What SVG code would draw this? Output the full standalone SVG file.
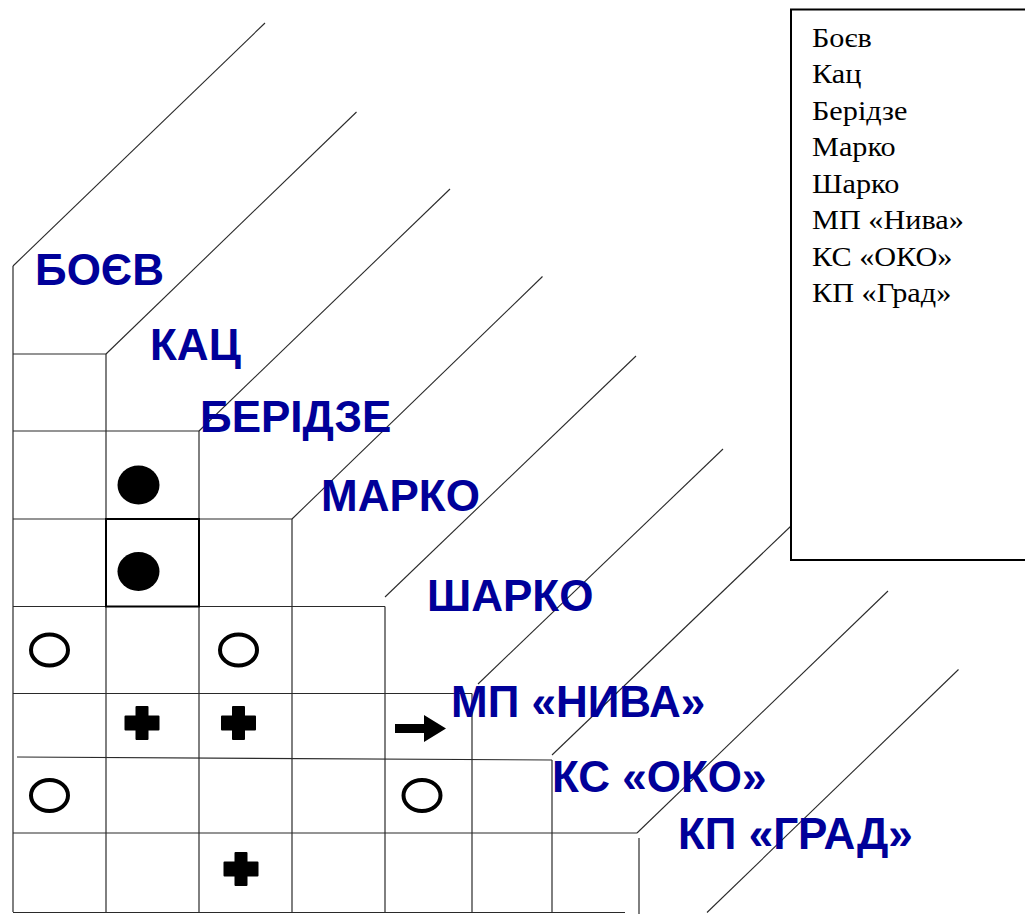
<svg xmlns="http://www.w3.org/2000/svg" width="1025" height="914" viewBox="0 0 1025 914">
<style>
.g{stroke:#2a2a2a;stroke-width:1.2;fill:none}
.d{stroke:#2a2a2a;stroke-width:1.1;fill:none}
.lbl{font-family:"Liberation Sans",Arial,sans-serif;font-weight:bold;font-size:44px;fill:#000099}
.leg{font-family:"Liberation Serif","Times New Roman",serif;font-size:27px;fill:#000}
.oc{fill:none;stroke:#000;stroke-width:4}
.fc{fill:#000}
</style>
<defs>
<path id="cross" d="M-5.5,-17 h11 q1,0 1,1 v8.5 h10 q1,0 1,1 v13 q0,1 -1,1 h-10 v8.5 q0,1 -1,1 h-11 q-1,0 -1,-1 v-8.5 h-10 q-1,0 -1,-1 v-13 q0,-1 1,-1 h10 v-8.5 q0,-1 1,-1 z" fill="#000"/>
</defs>
<rect width="1025" height="914" fill="#fff"/>
<g id="diagonals">
<line class="d" x1="13" y1="266" x2="265" y2="23"/>
<line class="d" x1="106" y1="354" x2="356.5" y2="112"/>
<line class="d" x1="199" y1="431" x2="450" y2="189"/>
<line class="d" x1="292" y1="519" x2="542.5" y2="276.5"/>
<line class="d" x1="385" y1="597" x2="636" y2="356"/>
<line class="d" x1="478" y1="684" x2="723" y2="449"/>
<line class="d" x1="552" y1="755" x2="791" y2="526"/>
<line class="d" x1="637" y1="833" x2="888" y2="591"/>
<line class="d" x1="707" y1="912.5" x2="958.5" y2="669.5"/>
</g>
<g id="grid">
<line class="g" x1="13" y1="266" x2="13" y2="912"/>
<line class="g" x1="106" y1="354" x2="106" y2="912"/>
<line class="g" x1="199" y1="431" x2="199" y2="912"/>
<line class="g" x1="292" y1="519" x2="292" y2="912"/>
<line class="g" x1="385" y1="606.5" x2="385" y2="912"/>
<line class="g" x1="472" y1="693.5" x2="472" y2="912"/>
<line class="g" x1="552" y1="760" x2="552" y2="912"/>
<line class="g" x1="639" y1="838" x2="639" y2="914"/>
<line class="g" x1="13" y1="354" x2="106" y2="354"/>
<line class="g" x1="13" y1="431" x2="199" y2="431"/>
<line class="g" x1="13" y1="519" x2="292" y2="519"/>
<line class="g" x1="13" y1="606.5" x2="385" y2="606.5"/>
<line class="g" x1="13" y1="693.5" x2="472" y2="693.5"/>
<line class="g" x1="17" y1="757" x2="552" y2="760"/>
<line class="g" x1="13" y1="833" x2="637" y2="833"/>
<line class="g" x1="13" y1="912.5" x2="625" y2="912.5"/>
<rect x="106" y="519" width="93" height="87.5" fill="none" stroke="#000" stroke-width="2"/>
</g>
<g id="labels">
<text class="lbl" x="35" y="285">БОЄВ</text>
<text class="lbl" x="150" y="360">КАЦ</text>
<text class="lbl" x="200" y="432">БЕРІДЗЕ</text>
<text class="lbl" x="321" y="511">МАРКО</text>
<text class="lbl" x="427" y="611">ШАРКО</text>
<text class="lbl" x="451" y="717">МП «НИВА»</text>
<text class="lbl" x="552" y="792">КС «ОКО»</text>
<text class="lbl" x="678" y="849">КП «ГРАД»</text>
</g>
<g id="symbols">
<ellipse class="fc" cx="138.5" cy="485" rx="21" ry="19.5"/>
<ellipse class="fc" cx="138.5" cy="571.5" rx="21" ry="19.5"/>
<ellipse class="oc" cx="49.5" cy="650" rx="18.5" ry="15.5"/>
<ellipse class="oc" cx="238.5" cy="650" rx="18.5" ry="15.5"/>
<ellipse class="oc" cx="49.5" cy="795.5" rx="18.5" ry="15.5"/>
<ellipse class="oc" cx="422" cy="795.5" rx="18.5" ry="15.5"/>
<use href="#cross" x="142" y="723"/>
<use href="#cross" x="238.5" y="723"/>
<use href="#cross" x="241" y="869"/>
<path d="M395,724 H424 V715 L446,728.5 L424,742 V733 H395 Z" fill="#000"/>
</g>
<g id="legend">
<rect x="791" y="9.5" width="250" height="550.5" fill="none" stroke="#000" stroke-width="2"/>
<g transform="translate(812,0) scale(1.12,1)">
<text class="leg" x="0" y="47">Боєв</text>
<text class="leg" x="0" y="83.5">Кац</text>
<text class="leg" x="0" y="120">Берідзе</text>
<text class="leg" x="0" y="156.5">Марко</text>
<text class="leg" x="0" y="193">Шарко</text>
<text class="leg" x="0" y="229.5">МП «Нива»</text>
<text class="leg" x="0" y="266">КС «ОКО»</text>
<text class="leg" x="0" y="302.5">КП «Град»</text>
</g>
</g>
</svg>
